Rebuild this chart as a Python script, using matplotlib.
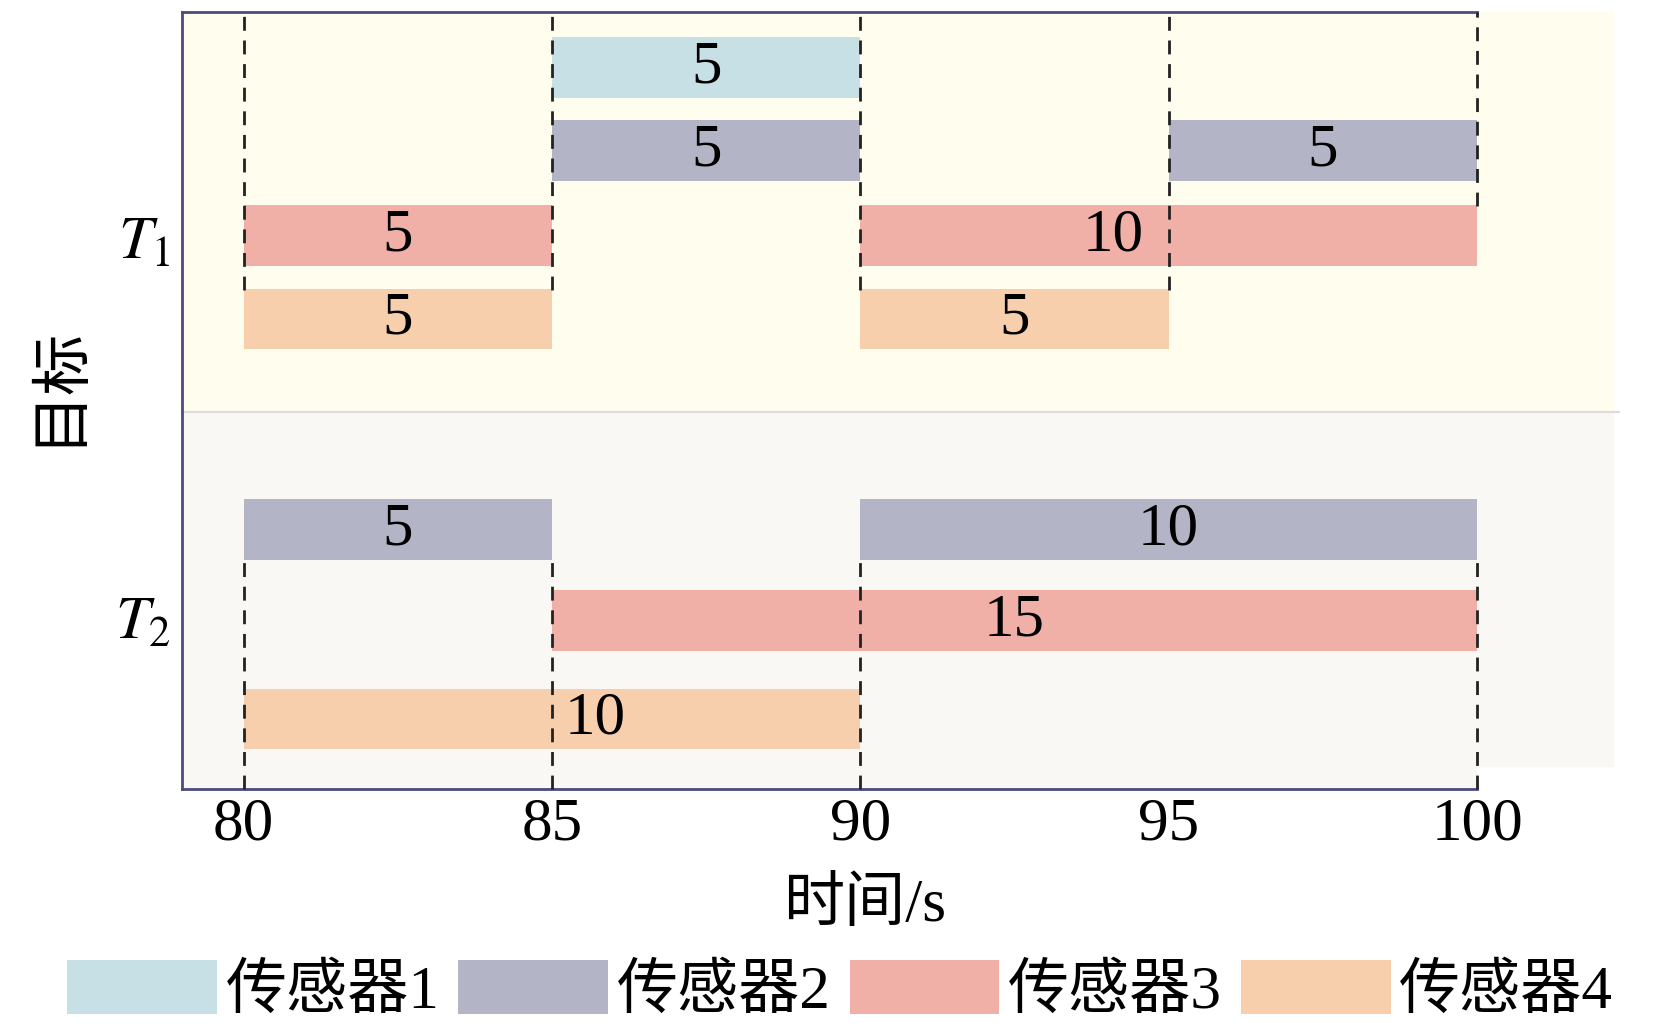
import numpy as np
import matplotlib
matplotlib.use('Agg')
from matplotlib import pyplot as plt
from matplotlib.patches import Patch, Rectangle

plt.rcParams['font.family'] = ['Liberation Serif', 'Noto Sans CJK SC']
plt.rcParams['mathtext.fontset'] = 'stix'

# 数据
sensors = ['传感器1', '传感器2', '传感器3', '传感器4']
colors = ['#c6e0e5', '#b3b4c5', '#f1b0a7', '#f7cfac']
targets = ['T1', 'T2']
target_labels = [r'$T_1$', r'$T_2$']

# (目标, 传感器序号) -> [(开始时间, 持续时间), ...]
tasks = {
    ('T1', 0): [(85, 5)],
    ('T1', 1): [(85, 5), (95, 5)],
    ('T1', 2): [(80, 5), (90, 10)],
    ('T1', 3): [(80, 5), (90, 5)],
    ('T2', 1): [(80, 5), (90, 10)],
    ('T2', 2): [(85, 15)],
    ('T2', 3): [(80, 10)],
}

# 每行的纵向位置
row_y = {
    ('T1', 0): 9.29, ('T1', 1): 8.22, ('T1', 2): 7.13, ('T1', 3): 6.05,
    ('T2', 1): 3.34, ('T2', 2): 2.17, ('T2', 3): 0.90,
}
bar_h = 0.78
# 标签位置的特殊偏移
label_x = {('T1', 2, 90): 94.1, ('T2', 1, 90): 95.0, ('T2', 3, 80): 85.7}

fig = plt.figure(figsize=(16.54, 10.34), dpi=100)
ax = fig.add_axes([0.110, 0.237, 0.783, 0.751])
ax.set_xlim(79, 100)
ax.set_ylim(0, 10)
ax.set_facecolor('none')

# 背景
split = 4.85
ax.add_patch(Rectangle((79, split), 23.2, 10 - split, color='#fffdee', zorder=0, clip_on=False))
ax.add_patch(Rectangle((79, 0.3), 23.2, split - 0.3, color='#f9f8f4', zorder=0, clip_on=False))
ax.add_patch(Rectangle((79, 0), 21, 0.3, color='#f9f8f4', zorder=0))
ax.plot([79, 102.3], [split, split], color='#dcdcdc', lw=1.5, zorder=0.5, clip_on=False)

for (t, s), spans in tasks.items():
    y = row_y[(t, s)]
    for start, dur in spans:
        ax.barh(y, dur, left=start, height=bar_h, color=colors[s], zorder=2)
        lx = label_x.get((t, s, start), start + dur / 2)
        ax.text(lx, y, str(dur), ha='center', va='center', fontsize=44, zorder=4)

# 虚线
dash_t1 = [(80, 6.43, 10), (85, 6.43, 10), (90, 6.43, 10), (95, 6.43, 10), (100, 7.51, 10)]
dash_t2 = [(80, 0, 2.95), (85, 0, 2.95), (90, 0, 2.95), (100, 0, 2.95)]
for x, y0, y1 in dash_t1 + dash_t2:
    ax.plot([x, x], [y0, y1], color='#222222', lw=2, ls=(0, (5, 3.5)), zorder=3, clip_on=False)

ax.set_xticks([80, 85, 90, 95, 100])
ax.set_yticks([7.1, 2.2])
ax.set_yticklabels(target_labels)
ax.tick_params(axis='both', length=0, labelsize=44)
ax.tick_params(axis='x', pad=6)
ax.tick_params(axis='y', pad=8)

ax.set_xlabel('时间/s', fontsize=44, labelpad=18)
ax.xaxis.label.set_x(0.527)
ax.set_ylabel('目标', fontsize=44)
ax.yaxis.set_label_coords(-0.073, 0.52)

for side in ['left', 'bottom', 'top']:
    ax.spines[side].set_color('#4b4b7d')
    ax.spines[side].set_linewidth(2)
ax.spines['right'].set_visible(False)

handles = [Patch(facecolor=c, edgecolor='none') for c in colors]
fig.legend(handles, sensors, loc='center', bbox_to_anchor=(0.508, 0.042), ncol=4,
           frameon=False, fontsize=44, handlelength=2.45, handleheight=0.97,
           handletextpad=0.14, columnspacing=0.31, borderpad=0)

fig.savefig('out.png', dpi=100)
